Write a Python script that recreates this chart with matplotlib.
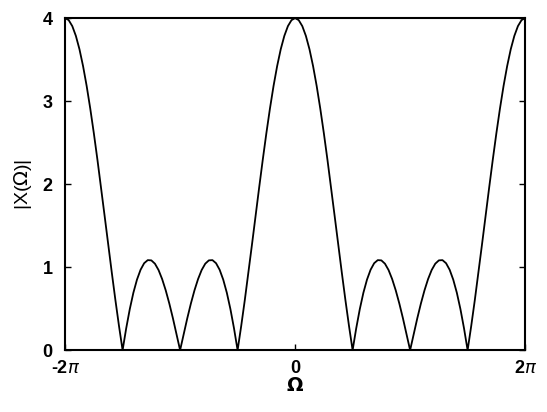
import matplotlib
matplotlib.use('Agg')
import matplotlib.pyplot as plt
import numpy as np

# |X(Omega)|, Omega from -2pi to 2pi in steps of pi/32
omega_over_pi = np.arange(-64, 65) / 32.0
magnitude = [
    4.000, 3.976, 3.904, 3.786, 3.625, 3.422, 3.183, 2.911, 2.613, 2.294, 1.960,
    1.617, 1.273, 0.933, 0.603, 0.291, 0.000, 0.263, 0.495, 0.692, 0.850, 0.969,
    1.048, 1.085, 1.082, 1.042, 0.966, 0.857, 0.721, 0.562, 0.385, 0.195, 0.000,
    0.195, 0.385, 0.562, 0.721, 0.857, 0.966, 1.042, 1.082, 1.085, 1.048, 0.969,
    0.850, 0.692, 0.495, 0.263, 0.000, 0.291, 0.603, 0.933, 1.273, 1.617, 1.960,
    2.294, 2.613, 2.911, 3.183, 3.422, 3.625, 3.786, 3.904, 3.976, 4.000,
    3.976, 3.904, 3.786, 3.625, 3.422, 3.183, 2.911, 2.613, 2.294, 1.960,
    1.617, 1.273, 0.933, 0.603, 0.291, 0.000, 0.263, 0.495, 0.692, 0.850, 0.969,
    1.048, 1.085, 1.082, 1.042, 0.966, 0.857, 0.721, 0.562, 0.385, 0.195, 0.000,
    0.195, 0.385, 0.562, 0.721, 0.857, 0.966, 1.042, 1.082, 1.085, 1.048, 0.969,
    0.850, 0.692, 0.495, 0.263, 0.000, 0.291, 0.603, 0.933, 1.273, 1.617, 1.960,
    2.294, 2.613, 2.911, 3.183, 3.422, 3.625, 3.786, 3.904, 3.976, 4.000,
]
xtick_pos = [-2, 0, 2]
xtick_labels = [r'-2$\pi$', '0', r'2$\pi$']
ytick_pos = [0, 1, 2, 3, 4]

plt.rcParams['font.family'] = ['Liberation Sans', 'DejaVu Sans']
plt.rcParams['mathtext.fontset'] = 'dejavusans'

fig = plt.figure(figsize=(5.47, 4.12), dpi=100)
ax = fig.add_axes([0.119, 0.15, 0.841, 0.806])

ax.plot(omega_over_pi, magnitude, '-', color='black', lw=1.3)

ax.set_xlim(-2, 2)
ax.set_ylim(0, 4)
ax.set_xticks(xtick_pos)
ax.set_xticklabels(xtick_labels, fontsize=13, fontweight='bold')
ax.set_yticks(ytick_pos)
ax.set_yticklabels([str(v) for v in ytick_pos], fontsize=13, fontweight='bold')
ax.tick_params(direction='in', length=4, width=1, right=True, top=False)
ax.tick_params(axis='x', pad=7)
ax.tick_params(axis='y', pad=9)

for s in ax.spines.values():
    s.set_linewidth(1.5)

ax.set_xlabel(r'$\mathbf{\Omega}$', fontsize=14, labelpad=0)
ax.set_ylabel(r'|X($\Omega$)|', fontsize=14, labelpad=6)

fig.savefig('out.png', dpi=100)
